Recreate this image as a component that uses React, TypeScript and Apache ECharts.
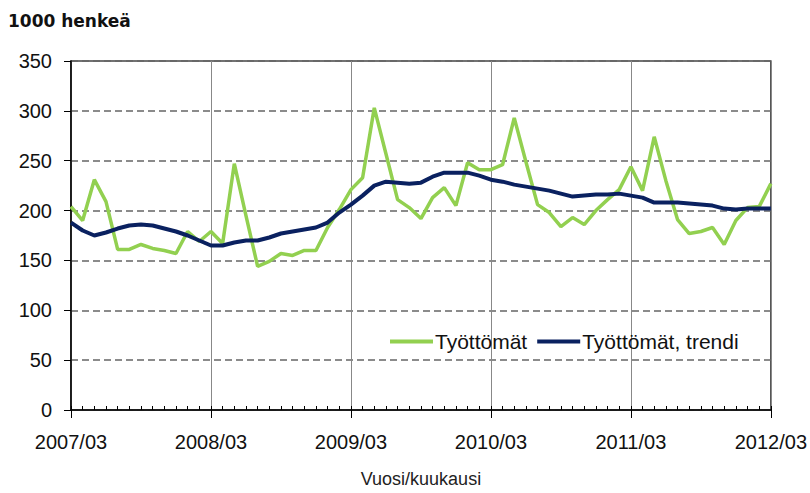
import React, { useEffect, useRef } from "react";
import * as echarts from "echarts";

const startYear = 2007;
const startMonth = 3;
const monthCount = 61;
const categories: string[] = [];
for (let i = 0; i < monthCount; i++) {
  const m = startMonth - 1 + i;
  const y = startYear + Math.floor(m / 12);
  const mm = (m % 12) + 1;
  categories.push(`${y}/${mm < 10 ? "0" + mm : mm}`);
}

const tyottomat = [
  204, 190, 231, 209, 161, 161, 166, 162, 160, 157, 179, 169,
  179, 167, 247, 195, 144, 149, 157, 155, 160, 160, 183, 201,
  221, 233, 303, 257, 211, 203, 192, 213, 223, 205, 248, 241,
  241, 246, 293, 249, 206, 198, 184, 193, 186, 200, 211, 221,
  244, 220, 274, 230, 191, 177, 179, 183, 166, 190, 203, 204, 227,
];

const trendi = [
  188, 180, 175, 178, 182, 185, 186, 185, 182, 179, 175, 170,
  165, 165, 168, 170, 170, 173, 177, 179, 181, 183, 188, 198,
  206, 215, 225, 229, 228, 227, 228, 234, 238, 238, 238, 235,
  231, 229, 226, 224, 222, 220, 217, 214, 215, 216, 216, 217,
  215, 213, 208, 208, 208, 207, 206, 205, 202, 201, 202, 202, 202,
];

const seriesNames = ["Työttömät", "Työttömät, trendi"];
const yMin = 0;
const yMax = 350;
const yInterval = 50;

const FONT = "'Liberation Sans', Arial, sans-serif";

export default function App() {
  const ref = useRef<HTMLDivElement>(null);
  useEffect(() => {
    if (!ref.current) return;
    const chart = echarts.init(ref.current, null, { renderer: "svg" });
    chart.setOption({
      animation: false,
      backgroundColor: "#ffffff",
      textStyle: { fontFamily: FONT },
      grid: {
        left: 71,
        right: 39,
        top: 61,
        bottom: 77,
        show: true,
        borderColor: "#444",
        borderWidth: 1.5,
        backgroundColor: "transparent",
      },
      graphic: [
        {
          type: "text",
          left: 8,
          top: 12,
          style: {
            text: "1000 henkeä",
            font: "bold 17px 'DejaVu Sans', sans-serif",
            fill: "#111",
          },
        },
      ],
      legend: {
        data: seriesNames,
        left: 385,
        top: 326,
        icon: "rect",
        itemWidth: 43,
        itemHeight: 4,
        itemGap: 10,
        textStyle: { fontSize: 21, color: "#111", fontFamily: FONT, padding: [0, 0, 0, -3] },
      },
      xAxis: [
        {
          type: "category",
          data: categories,
          boundaryGap: false,
          position: "bottom",
          name: "Vuosi/kuukausi",
          nameLocation: "middle",
          nameGap: 60,
          nameTextStyle: { fontSize: 18, color: "#222", fontFamily: FONT },
          axisLine: { show: true, lineStyle: { color: "#000", width: 1.5 } },
          axisTick: { show: true, interval: 0, inside: true, length: 4, lineStyle: { color: "#000", width: 1 } },
          axisLabel: { interval: 11, fontSize: 20, color: "#111", margin: 22, fontFamily: FONT },
          splitLine: { show: true, interval: 11, lineStyle: { color: "#888", width: 1, type: "solid" } },
        },
        {
          type: "category",
          data: categories,
          boundaryGap: false,
          position: "bottom",
          axisLine: { show: false },
          axisTick: { show: true, interval: 11, inside: false, length: 8, lineStyle: { color: "#000", width: 1 } },
          axisLabel: { show: false },
          splitLine: { show: false },
        },
      ],
      yAxis: {
        type: "value",
        min: yMin,
        max: yMax,
        interval: yInterval,
        axisLine: { show: true, lineStyle: { color: "#000", width: 1.5 } },
        axisTick: { show: true, inside: false, length: 7, lineStyle: { color: "#000", width: 1 } },
        axisLabel: { fontSize: 20, color: "#111", margin: 19, fontFamily: FONT },
        splitLine: { show: true, lineStyle: { color: "#666", width: 1.5, type: [7, 4] } },
      },
      series: [
        {
          name: seriesNames[0],
          type: "line",
          data: tyottomat,
          symbol: "none",
          color: "#92D050",
          lineStyle: { color: "#92D050", width: 3.5 },
        },
        {
          name: seriesNames[1],
          type: "line",
          data: trendi,
          symbol: "none",
          color: "#0A2160",
          lineStyle: { color: "#0A2160", width: 4 },
        },
      ],
    });
    return () => chart.dispose();
  }, []);
  return (
    <div
      ref={ref}
      style={{ position: "absolute", left: 0, top: 0, width: 810, height: 493 }}
    />
  );
}
